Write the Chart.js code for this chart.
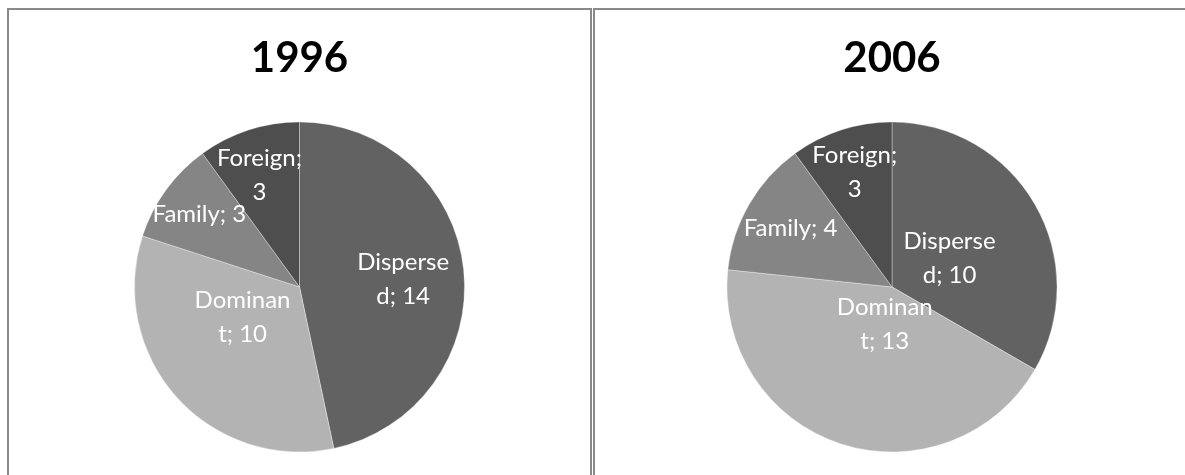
<!DOCTYPE html>
<html><head><meta charset="utf-8">
<script src="https://cdn.jsdelivr.net/npm/chart.js@4"></script>
<style>
html,body{margin:0;padding:0;background:#fff;overflow:hidden;width:1185px;height:475px;}
.panel{position:absolute;border:2px solid #8a8a8a;}
#p1{left:7px;top:8px;width:581px;height:480px;}
#p2{left:593px;top:8px;width:600px;height:480px;}
canvas{display:block;}
</style></head>
<body>
<div class="panel" id="p1"><canvas id="c1" width="581" height="465"></canvas></div>
<div class="panel" id="p2"><canvas id="c2" width="594" height="465"></canvas></div>
<script>
const categories = ['Dispersed','Dominant','Family','Foreign'];
const values1996 = [14, 10, 3, 3];
const values2006 = [10, 13, 4, 3];
const titles = ['1996', '2006'];
const sliceColors = ['#626262', '#b3b3b3', '#858585', '#4e4e4e'];

// label placement (fraction of radius, angle offset in degrees) per slice
const place1996 = [{f:0.63,da:1.6},{f:0.39,da:14.2},{f:0.75,da:0},{f:0.72,da:-1.7}];
const place2006 = [{f:0.39,da:3.4},{f:0.23,da:-7},{f:0.71,da:0},{f:0.73,da:0}];

const LABEL_FONT = '24px Lato';
const LABEL_MAXW = 98;
const LINE_H = 34;

function wrap(ctx, text, maxW){
  const words = text.split(' ');
  const lines = []; let cur = '';
  for (const w of words){
    const cand = cur ? cur + ' ' + w : w;
    if (ctx.measureText(cand).width <= maxW){ cur = cand; continue; }
    if (cur){ lines.push(cur); cur = ''; }
    let rest = w;
    while (ctx.measureText(rest).width > maxW){
      let n = rest.length;
      while (n > 1 && ctx.measureText(rest.slice(0, n)).width > maxW) n--;
      lines.push(rest.slice(0, n)); rest = rest.slice(n);
    }
    cur = rest;
  }
  if (cur) lines.push(cur);
  return lines;
}

function labelPlugin(place){
  return {
    id: 'sliceLabels',
    afterDatasetsDraw(chart){
      const ctx = chart.ctx;
      const meta = chart.getDatasetMeta(0);
      const ds = chart.data.datasets[0];
      ctx.save();
      ctx.fillStyle = '#ffffff';
      ctx.font = LABEL_FONT;
      ctx.textAlign = 'center';
      ctx.textBaseline = 'middle';
      meta.data.forEach((arc, i) => {
        const p = arc.getProps(['x','y','startAngle','endAngle','outerRadius'], true);
        const pl = place[i];
        const a = (p.startAngle + p.endAngle) / 2 + pl.da * Math.PI / 180;
        const cx = p.x + Math.cos(a) * p.outerRadius * pl.f;
        const cy = p.y + Math.sin(a) * p.outerRadius * pl.f;
        const lines = wrap(ctx, chart.data.labels[i] + '; ' + ds.data[i], LABEL_MAXW);
        lines.forEach((ln, k) => ctx.fillText(ln, cx, cy + (k - (lines.length - 1) / 2) * LINE_H));
      });
      ctx.restore();
    }
  };
}

function makePie(id, title, values, place){
  return new Chart(document.getElementById(id), {
    type: 'pie',
    data: {
      labels: categories,
      datasets: [{
        data: values,
        backgroundColor: sliceColors,
        borderColor: 'rgba(255,255,255,0.35)',
        borderWidth: 1
      }]
    },
    options: {
      responsive: false,
      animation: false,
      layout: { padding: { top: 0, bottom: 22.5, left: 0, right: 0 } },
      plugins: {
        legend: { display: false },
        tooltip: { enabled: false },
        title: {
          display: true,
          text: title,
          color: '#000000',
          font: { family: 'Lato', size: 42, weight: 'bold', lineHeight: 1.2 },
          padding: { top: 23, bottom: 38 }
        }
      }
    },
    plugins: [labelPlugin(place)]
  });
}

makePie('c1', titles[0], values1996, place1996);
makePie('c2', titles[1], values2006, place2006);
</script>
</body></html>
